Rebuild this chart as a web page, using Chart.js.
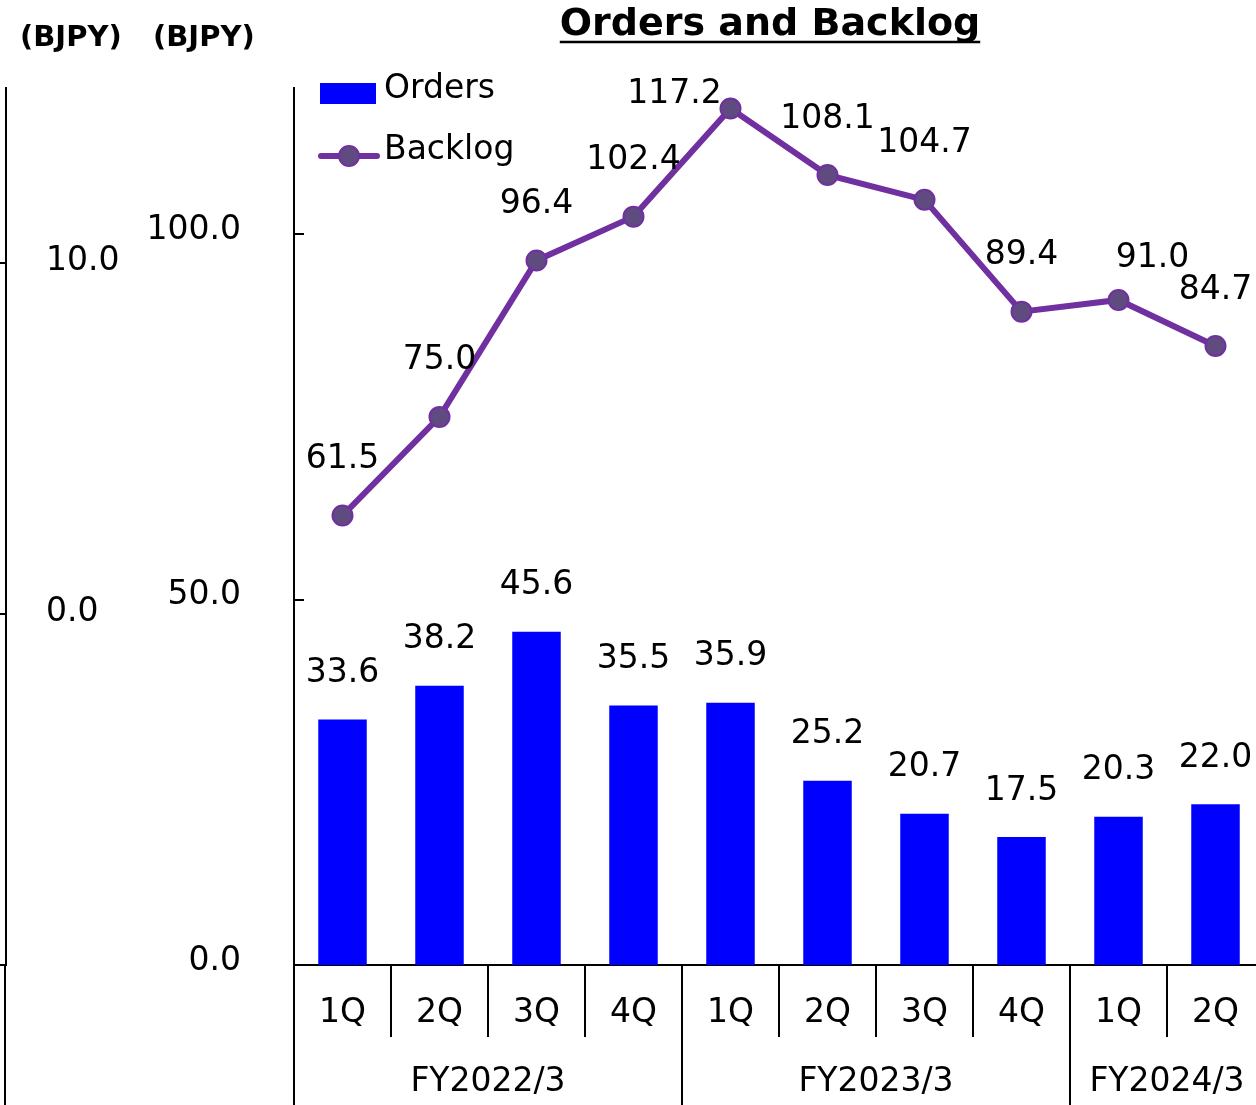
<!DOCTYPE html>
<html>
<head>
<meta charset="utf-8">
<script src="https://cdn.jsdelivr.net/npm/chart.js@4.4.1/dist/chart.umd.min.js"></script>
<style>
  html, body { margin: 0; padding: 0; overflow: hidden; background: #fff; }
</style>
</head>
<body>
<canvas id="chart" width="1276" height="1105"></canvas>
<script>
// Data
const quarters = ["1Q", "2Q", "3Q", "4Q", "1Q", "2Q", "3Q", "4Q", "1Q", "2Q"]
const fiscalYears = ["FY2022/3", "FY2023/3", "FY2024/3"]
const quartersPerYear = [4, 4, 2]
const orders = [33.6, 38.2, 45.6, 35.5, 35.9, 25.2, 20.7, 17.5, 20.3, 22.0]
const backlog = [61.5, 75.0, 96.4, 102.4, 117.2, 108.1, 104.7, 89.4, 91.0, 84.7]
const mainTicks = [0, 50, 100]
const leftTicks = [-10, 0, 10]

const FONT = "DejaVu Sans"
const BLUE = "#0000FF"
const PURPLE = "#7030A0"
const POINT_FILL = "#5F4B80"

Chart.defaults.font.family = FONT
Chart.defaults.font.size = 33
Chart.defaults.color = "#000"

// title, unit labels, inner y ticks, two-level x axis, legend
const decorations = {
  id: "decorations",
  afterDraw(chart) {
    const ctx = chart.ctx
    const area = chart.chartArea
    const x = chart.scales.x
    const y = chart.scales.y
    const y2 = chart.scales.y2
    const H = chart.height

    ctx.save()
    ctx.fillStyle = "#000"
    ctx.strokeStyle = "#000"

    // title with underline
    ctx.font = "bold 38px " + FONT
    ctx.textAlign = "center"
    ctx.textBaseline = "alphabetic"
    const title = "Orders and Backlog"
    const tx = 770
    ctx.fillText(title, tx, 35)
    const tw = ctx.measureText(title).width
    ctx.lineWidth = 2.5
    ctx.beginPath()
    ctx.moveTo(tx - tw / 2, 42)
    ctx.lineTo(tx + tw / 2, 42)
    ctx.stroke()

    // unit labels
    ctx.font = "bold 29px " + FONT
    ctx.textAlign = "left"
    ctx.textBaseline = "middle"
    ctx.fillText("(BJPY)", 20, 38)
    ctx.fillText("(BJPY)", 153, 38)

    // inner tick marks on main axis
    ctx.lineWidth = 2
    mainTicks.forEach(v => {
      if (v === 0) return
      const py = Math.round(y.getPixelForValue(v))
      ctx.beginPath()
      ctx.moveTo(area.left, py)
      ctx.lineTo(area.left + 10, py)
      ctx.stroke()
    })

    // axis lines continue below the plot
    ctx.beginPath()
    ctx.moveTo(y2.right - 1, area.bottom)
    ctx.lineTo(y2.right - 1, H)
    ctx.moveTo(area.left, area.bottom)
    ctx.lineTo(area.left, H)
    ctx.stroke()

    // category separators and fiscal year labels
    const step = x.getPixelForValue(1) - x.getPixelForValue(0)
    const edge = i => Math.round(x.getPixelForValue(i) - step / 2)
    const groupEdges = [0]
    quartersPerYear.forEach(n => groupEdges.push(groupEdges[groupEdges.length - 1] + n))
    for (let i = 1; i < quarters.length; i++) {
      const ex = edge(i)
      ctx.beginPath()
      ctx.moveTo(ex, area.bottom)
      ctx.lineTo(ex, groupEdges.includes(i) ? H : area.bottom + 72)
      ctx.stroke()
    }
    ctx.font = "33px " + FONT
    ctx.textAlign = "center"
    ctx.textBaseline = "middle"
    fiscalYears.forEach((label, g) => {
      const cx = (edge(groupEdges[g]) + edge(groupEdges[g + 1])) / 2
      ctx.fillText(label, cx, 1082)
    })

    // legend inside the plot
    ctx.fillStyle = BLUE
    ctx.fillRect(320, 83, 56, 21)
    ctx.strokeStyle = PURPLE
    ctx.lineWidth = 6
    ctx.lineCap = "round"
    ctx.beginPath()
    ctx.moveTo(321, 156)
    ctx.lineTo(377, 156)
    ctx.stroke()
    ctx.fillStyle = POINT_FILL
    ctx.lineWidth = 2
    ctx.beginPath()
    ctx.arc(349, 156, 10, 0, Math.PI * 2)
    ctx.fill()
    ctx.stroke()
    ctx.fillStyle = "#000"
    ctx.textAlign = "left"
    ctx.fillText("Orders", 384, 89)
    ctx.fillText("Backlog", 384, 150)

    ctx.restore()
  }
}

// value labels above bars and points
const valueLabels = {
  id: "valueLabels",
  afterDatasetsDraw(chart) {
    const ctx = chart.ctx
    ctx.save()
    ctx.font = "33px " + FONT
    ctx.fillStyle = "#000"
    ctx.textAlign = "center"
    ctx.textBaseline = "middle"

    chart.getDatasetMeta(1).data.forEach((bar, i) => {
      ctx.fillText(orders[i].toFixed(1), bar.x, bar.y - 46)
    })

    chart.getDatasetMeta(0).data.forEach((pt, i) => {
      let lx = pt.x
      let ly = pt.y - 56
      if (i === 4) { lx = pt.x - 56; ly = pt.y - 14 }   // peak label sits to the left
      if (i === 8) { lx = pt.x + 34; ly = pt.y - 42 }
      ctx.fillText(backlog[i].toFixed(1), lx, ly)
    })
    ctx.restore()
  }
}

new Chart(document.getElementById("chart"), {
  data: {
    labels: quarters,
    datasets: [
      {
        type: "line",
        label: "Backlog",
        data: backlog,
        yAxisID: "y",
        order: 0,
        borderColor: PURPLE,
        borderWidth: 6,
        pointRadius: 10,
        pointBorderWidth: 2,
        pointBackgroundColor: POINT_FILL,
        pointBorderColor: PURPLE,
        tension: 0
      },
      {
        type: "bar",
        label: "Orders",
        data: orders,
        yAxisID: "y",
        order: 1,
        backgroundColor: BLUE,
        categoryPercentage: 1,
        barPercentage: 0.5
      }
    ]
  },
  options: {
    responsive: false,
    animation: false,
    layout: { padding: { top: 88, left: 0, right: 0, bottom: 0 } },
    plugins: {
      legend: { display: false },
      tooltip: { enabled: false },
      title: { display: false }
    },
    scales: {
      x: {
        type: "category",
        offset: true,
        grid: { display: false },
        border: { color: "#000", width: 2 },
        ticks: { padding: 21, color: "#000", font: { size: 33 }, maxRotation: 0 },
        afterFit: s => { s.height = 140 }
      },
      y2: {
        type: "linear",
        position: "left",
        weight: 1,
        min: -10,
        max: 15,
        afterBuildTicks: s => { s.ticks = leftTicks.map(v => ({ value: v })) },
        grid: { display: true, drawOnChartArea: false, drawTicks: true, tickLength: 6, color: "#000", lineWidth: 2 },
        border: { color: "#000", width: 2 },
        ticks: {
          mirror: true,
          padding: 40,
          labelOffset: -2,
          color: "#000",
          callback: v => (v === -10 ? "" : v.toFixed(1))
        },
        afterFit: s => { s.width = 6 }
      },
      y: {
        type: "linear",
        position: "left",
        weight: 0,
        min: 0,
        max: 120,
        afterBuildTicks: s => { s.ticks = mainTicks.map(v => ({ value: v })) },
        grid: { display: false },
        border: { color: "#000", width: 2 },
        ticks: {
          padding: 45,
          labelOffset: -4,
          color: "#000",
          callback: v => v.toFixed(1)
        },
        afterFit: s => { s.width = 288 }
      }
    }
  },
  plugins: [valueLabels, decorations]
})
</script>
</body>
</html>
